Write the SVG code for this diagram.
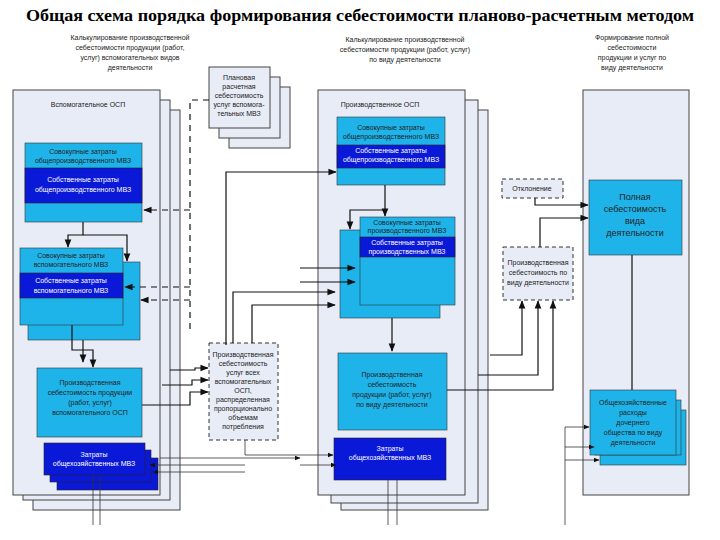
<svg xmlns="http://www.w3.org/2000/svg" width="720" height="540" viewBox="0 0 720 540">
<defs>
<style>
.t{font-family:"Liberation Sans",Arial,sans-serif;font-size:7px;fill:#222;text-anchor:middle}
.w{fill:#fff}
.pan{fill:#e8ecf6;stroke:#444;stroke-width:1}
.cy{fill:#1eb4ea;stroke:#333;stroke-width:0.6}
.db{fill:#0a18d8;stroke:#222;stroke-width:0.6}
.dash{fill:#e8ecf6;stroke:#333;stroke-width:1;stroke-dasharray:4,3}
.c{fill:none;stroke:#111;stroke-width:1.2}
.cd{fill:none;stroke:#111;stroke-width:1.2;stroke-dasharray:6,5}
.l{fill:none;stroke:#333;stroke-width:0.8}
</style>
<marker id="a" viewBox="0 0 10 10" refX="9" refY="5" markerWidth="7" markerHeight="7" orient="auto"><path d="M0,1L10,5L0,9z" fill="#111"/></marker>
</defs>
<rect width="720" height="540" fill="#fff"/>
<text x="360" y="21" style="font-family:'Liberation Serif',serif;font-size:16px;font-weight:bold;text-anchor:middle" textLength="668" lengthAdjust="spacingAndGlyphs">Общая схема порядка формирования себестоимости планово-расчетным методом</text>
<g id="headers">
<text class="t" x="130" y="40">Калькулирование производственной</text><text class="t" x="130" y="50">себестоимости продукции (работ,</text><text class="t" x="130" y="60">услуг) вспомогательных видов</text><text class="t" x="130" y="70">деятельности</text>
<text class="t" x="405" y="42">Калькулирование производственной</text><text class="t" x="405" y="52">себестоимости продукции (работ, услуг)</text><text class="t" x="405" y="62">по виду деятельности</text>
<text class="t" x="632" y="40">Формирование полной</text><text class="t" x="632" y="50">себестоимости</text><text class="t" x="632" y="60">продукции и услуг по</text><text class="t" x="632" y="70">виду деятельности</text>
</g>
<g id="left-panel">
<rect class="pan" x="33" y="110" width="147" height="400"/>
<rect class="pan" x="23" y="100" width="147" height="400"/>
<rect class="pan" x="13" y="90" width="147" height="405"/>
<text class="t" x="88" y="107">Вспомогательное ОСП</text>
</g>
<g id="left-b1">
<rect class="cy" x="25" y="143" width="117" height="79"/>
<rect class="db" x="25" y="168" width="117" height="35"/>
<text class="t" x="83" y="154">Совокупные затраты</text><text class="t" x="83" y="163">общепроизводственного МВЗ</text>
<text class="t w" x="83" y="182">Собственные затраты</text><text class="t w" x="83" y="192">общепроизводственного МВЗ</text>
</g>
<g id="left-b2">
<rect class="cy" x="28" y="262" width="112" height="78"/>
<rect class="cy" x="20" y="248" width="103" height="77"/>
<rect class="db" x="20" y="273" width="103" height="25"/>
<text class="t" x="71" y="258">Совокупные затраты</text><text class="t" x="71" y="267">вспомогательного МВЗ</text>
<text class="t w" x="71" y="283">Собственные затраты</text><text class="t w" x="71" y="293">вспомогательного МВЗ</text>
</g>
<g id="left-b3">
<rect class="cy" x="37" y="368" width="105" height="69"/>
<text class="t" x="90" y="385">Производственная</text><text class="t" x="90" y="395">себестоимость продукции</text><text class="t" x="90" y="405">(работ, услуг)</text><text class="t" x="90" y="415">вспомогательного ОСП</text>
</g>
<g id="left-b4">
<rect class="db" x="57" y="458" width="101" height="32"/>
<rect class="db" x="50" y="450" width="101" height="32"/>
<rect class="db" x="44" y="443" width="101" height="32"/>
<text class="t w" x="94" y="457">Затраты</text><text class="t w" x="94" y="466">общехозяйственных МВЗ</text>
</g>
<g id="plan-box">
<rect class="pan" x="229" y="87" width="61" height="61"/>
<rect class="pan" x="219" y="77" width="61" height="61"/>
<rect class="pan" x="209" y="67" width="61" height="61"/>
<text class="t" x="239" y="80">Плановая</text><text class="t" x="239" y="89">расчетная</text><text class="t" x="239" y="98">себестоимость</text><text class="t" x="239" y="107">услуг вспомога-</text><text class="t" x="239" y="116">тельных МВЗ</text>
</g>
<g id="mid-panel">
<rect class="pan" x="341" y="110" width="147" height="400"/>
<rect class="pan" x="331" y="100" width="147" height="403"/>
<rect class="pan" x="318" y="90" width="147" height="405"/>
<text class="t" x="380" y="107">Производственное ОСП</text>
</g>
<g id="mid-b1">
<rect class="cy" x="337" y="117" width="108" height="68"/>
<rect class="db" x="337" y="145" width="108" height="23"/>
<text class="t" x="391" y="130">Совокупные затраты</text><text class="t" x="391" y="139">общепроизводственного МВЗ</text>
<text class="t w" x="391" y="153">Собственные затраты</text><text class="t w" x="391" y="162">общепроизводственного МВЗ</text>
</g>
<g id="mid-b2">
<rect class="cy" x="340" y="230" width="100" height="88"/>
<rect class="cy" x="360" y="217" width="95" height="88"/>
<rect class="db" x="360" y="237" width="95" height="20"/>
<text class="t" x="407" y="225">Совокупные затраты</text><text class="t" x="407" y="233">производственного МВЗ</text>
<text class="t w" x="407" y="245">Собственные затраты</text><text class="t w" x="407" y="254">производственных МВЗ</text>
</g>
<g id="mid-b3">
<rect class="cy" x="338" y="353" width="109" height="77"/>
<text class="t" x="392" y="377">Производственная</text><text class="t" x="392" y="387">себестоимость</text><text class="t" x="392" y="397">продукции (работ, услуг)</text><text class="t" x="392" y="407">по виду деятельности</text>
</g>
<g id="mid-b4">
<rect class="db" x="334" y="438" width="112" height="42"/>
<text class="t w" x="390" y="451">Затраты</text><text class="t w" x="390" y="460">общехозяйственных МВЗ</text>
</g>
<g id="distr">
<rect class="dash" x="209" y="343" width="69" height="97"/>
<text class="t" x="243" y="357">Производственная</text><text class="t" x="243" y="366">себестоимость</text><text class="t" x="243" y="375">услуг всех</text><text class="t" x="243" y="384">вспомогательных</text><text class="t" x="243" y="393">ОСП,</text><text class="t" x="243" y="402">распределенная</text><text class="t" x="243" y="411">пропорционально</text><text class="t" x="243" y="420">объемам</text><text class="t" x="243" y="429">потребления</text>
</g>
<g id="deviation">
<rect class="dash" x="502" y="179" width="61" height="19"/>
<text class="t" x="532" y="191">Отклонение</text>
</g>
<g id="prod-cost">
<rect class="dash" x="503" y="247" width="70" height="53"/>
<text class="t" x="538" y="265">Производственная</text><text class="t" x="538" y="275">себестоимость по</text><text class="t" x="538" y="285">виду деятельности</text>
</g>
<g id="right-panel">
<rect class="pan" x="583" y="90" width="106" height="405"/>
</g>
<g id="full-cost">
<rect class="cy" x="589" y="180" width="93" height="75"/>
<text x="635" y="200" style="font-family:'Liberation Sans',Arial,sans-serif;font-size:9px;fill:#222;text-anchor:middle"><tspan x="635">Полная</tspan><tspan x="635" dy="12">себестоимость</tspan><tspan x="635" dy="12">вида</tspan><tspan x="635" dy="12">деятельности</tspan></text>
</g>
<g id="overhead">
<rect class="cy" x="600" y="410" width="86" height="55"/>
<rect class="cy" x="595" y="400" width="86" height="55"/>
<rect class="cy" x="590" y="390" width="86" height="65"/>
<text class="t" x="633" y="405">Общехозяйственные</text><text class="t" x="633" y="415">расходы</text><text class="t" x="633" y="425">дочернего</text><text class="t" x="633" y="435">общества по виду</text><text class="t" x="633" y="445">деятельности</text>
</g>
<g id="connectors">
<path class="cd" d="M209,100H190V330"/>
<path class="cd" d="M190,210H144" marker-end="url(#a)"/>
<path class="cd" d="M190,287H125" marker-end="url(#a)"/>
<path class="cd" d="M190,300H141" marker-end="url(#a)"/>
<path class="c" d="M83,222V235H68V247" marker-end="url(#a)"/>
<path class="c" d="M83,235H127V261" marker-end="url(#a)"/>
<path class="c" d="M72,325V350H93V367" marker-end="url(#a)"/>
<path class="c" d="M83,340V362" marker-end="url(#a)"/>
<path class="c" d="M142,405H190V392H208" marker-end="url(#a)"/>
<path class="c" d="M162,385H192V380H208" marker-end="url(#a)"/>
<path class="c" d="M170,370H195V368H208" marker-end="url(#a)"/>
<path class="l" d="M245,440V455H333" marker-end="url(#a)"/>
<path class="l" d="M160,458H300" marker-end="url(#a)"/>
<path class="l" d="M245,465H150" marker-end="url(#a)"/>
<path class="l" d="M245,472H153" marker-end="url(#a)"/>
<path class="l" d="M300,465H336" marker-end="url(#a)"/>
<path class="c" d="M226,345V172H336" marker-end="url(#a)"/>
<path class="c" d="M233,343V292H335" marker-end="url(#a)"/>
<path class="c" d="M252,343V305H335" marker-end="url(#a)"/>
<path class="c" d="M300,268H355" marker-end="url(#a)"/>
<path class="c" d="M300,282H355" marker-end="url(#a)"/>
<path class="c" d="M385,185V210H350V229" marker-end="url(#a)"/>
<path class="c" d="M385,210V216" marker-end="url(#a)"/>
<path class="c" d="M392,318V351" marker-end="url(#a)"/>
<path class="c" d="M447,390H553V301" marker-end="url(#a)"/>
<path class="c" d="M478,375H538V301" marker-end="url(#a)"/>
<path class="c" d="M490,355H522V301" marker-end="url(#a)"/>
<path class="c" d="M540,247V218H588" marker-end="url(#a)"/>
<path class="c" d="M535,198V205H588" marker-end="url(#a)"/>
<path class="c" d="M632,255V390"/>
<path class="l" d="M565,525V427H589" marker-end="url(#a)"/>
<path class="l" d="M565,447H594" marker-end="url(#a)"/>
<path class="l" d="M565,460H599" marker-end="url(#a)"/>
<path class="l" d="M93,475V525M100,475V525M388,480V525M397,480V525"/>
</g>
</svg>
